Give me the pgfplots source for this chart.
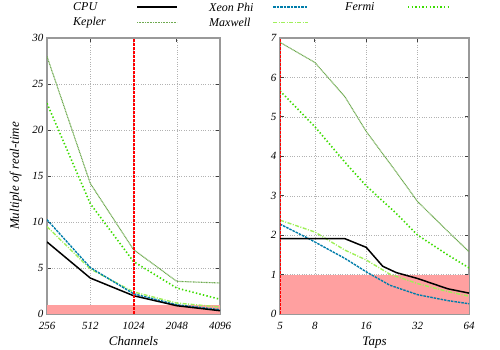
\documentclass[border=0pt]{standalone}
\usepackage{fontspec}
\setmainfont{Liberation Serif}
\usepackage{pgfplots}
\pgfplotsset{compat=1.18}

\definecolor{cXeon}{RGB}{0,125,170}
\definecolor{cFermi}{RGB}{60,220,0}
\definecolor{cKepler}{RGB}{110,170,80}
\definecolor{cMaxwell}{RGB}{160,240,90}
\definecolor{lowfill}{RGB}{255,160,160}

\tikzset{
  cpuline/.style={black, line width=1.5pt},
  xeonline/.style={cXeon, line width=1.4pt, dash pattern=on 2.5pt off 1pt},
  fermiline/.style={cFermi, line width=1.6pt, dash pattern=on 1.4pt off 2.2pt},
  keplerline/.style={cKepler, line width=1.1pt, dash pattern=on 1pt off 0.6pt},
  maxwellline/.style={cMaxwell, line width=1.4pt, dash pattern=on 4pt off 1.5pt on 1pt off 1.5pt},
  legtext/.style={anchor=west, inner sep=0pt, font=\fontsize{12}{12}\selectfont\itshape},
}

\pgfplotsset{
  every axis/.append style={
    scale only axis,
    anchor=south west,
    height=276pt,
    ymin=0,
    grid=major,
    major grid style={gray!60, dotted},
    axis line style={gray!80, line width=1.2pt},
    tick style={black!75, line width=0.8pt},
    major tick length=4pt,
    /pgf/number format/assume math mode=true,
    ticklabel style={font=\fontsize{11}{12}\selectfont\itshape},
    label style={font=\fontsize{13}{14}\selectfont\itshape},
    xticklabel style={yshift=-5pt},
    ylabel shift=4pt,
  },
}

\begin{document}
\begin{tikzpicture}
\useasboundingbox (0,0) rectangle (500pt,350pt);

% legend
\node[legtext] at (73pt,343pt) {CPU};
\draw[cpuline] (137pt,343pt) -- (177pt,343pt);
\node[legtext] at (209pt,343pt) {Xeon Phi};
\draw[xeonline] (273pt,343pt) -- (308pt,343pt);
\node[legtext] at (345pt,343pt) {Fermi};
\draw[fermiline] (408pt,343pt) -- (448pt,343pt);
\node[legtext] at (73pt,327.5pt) {Kepler};
\draw[keplerline] (137pt,327.5pt) -- (177pt,327.5pt);
\node[legtext] at (209pt,327.5pt) {Maxwell};
\draw[maxwellline] (273pt,327.5pt) -- (308pt,327.5pt);

% channels
\begin{semilogxaxis}[
  at={(47pt,36pt)}, width=173pt,
  log basis x=2,
  xmin=256, xmax=4096, ymax=30,
  xtick={256,512,1024,2048,4096},
  xticklabels={256,512,1024,2048,4096},
  ytick={0,5,10,15,20,25,30},
  xlabel={Channels},
  ylabel={Multiple of real-time},
]
\addplot[draw=none, fill=lowfill] coordinates {(256,1) (4096,1)} \closedcycle;
\addplot[keplerline] coordinates {(256,28.0) (512,14.2) (1024,7.0) (2048,3.55) (4096,3.37)};
\addplot[fermiline] coordinates {(256,22.9) (512,12.0) (1024,5.7) (2048,2.82) (4096,1.6)};
\addplot[maxwellline] coordinates {(256,9.5) (512,4.9) (1024,2.4) (2048,1.19) (4096,0.76)};
\addplot[xeonline] coordinates {(256,10.25) (512,5.05) (1024,2.2) (2048,1.0) (4096,0.47)};
\addplot[cpuline] coordinates {(256,7.83) (512,3.91) (1024,1.99) (2048,0.9) (4096,0.36)};
\addplot[red, line width=1.8pt, dash pattern=on 3pt off 1pt] coordinates {(1030,0) (1030,30)};
\end{semilogxaxis}

% taps
\begin{semilogxaxis}[
  at={(280pt,36pt)}, width=189pt,
  log basis x=2,
  xmin=5, xmax=64, ymax=7,
  xtick={5,8,16,32,64},
  xticklabels={5,8,16,32,64},
  ytick={0,1,2,3,4,5,6,7},
  xlabel={Taps},
]
\addplot[draw=none, fill=lowfill] coordinates {(5,1) (64,1)} \closedcycle;
\addplot[keplerline] coordinates {(5,6.89) (8,6.38) (12,5.51) (16,4.63) (24,3.6) (32,2.85) (48,2.1) (64,1.58)};
\addplot[fermiline] coordinates {(5,5.66) (8,4.75) (12,3.85) (16,3.25) (24,2.55) (32,2.0) (48,1.5) (64,1.17)};
\addplot[maxwellline] coordinates {(5,2.38) (8,2.08) (12,1.62) (16,1.37) (22,1.01) (32,0.77) (48,0.57) (64,0.45)};
\addplot[xeonline] coordinates {(5,2.28) (7.3,1.92) (12,1.41) (16,1.07) (22,0.73) (32,0.49) (48,0.34) (64,0.26)};
\addplot[cpuline] coordinates {(5,1.91) (12,1.91) (16,1.69) (20,1.21) (24,1.05) (32,0.9) (48,0.64) (64,0.53)};
\addplot[red, line width=1.8pt, dash pattern=on 3pt off 1pt] coordinates {(5,0) (5,7)};
\end{semilogxaxis}
\end{tikzpicture}
\end{document}
